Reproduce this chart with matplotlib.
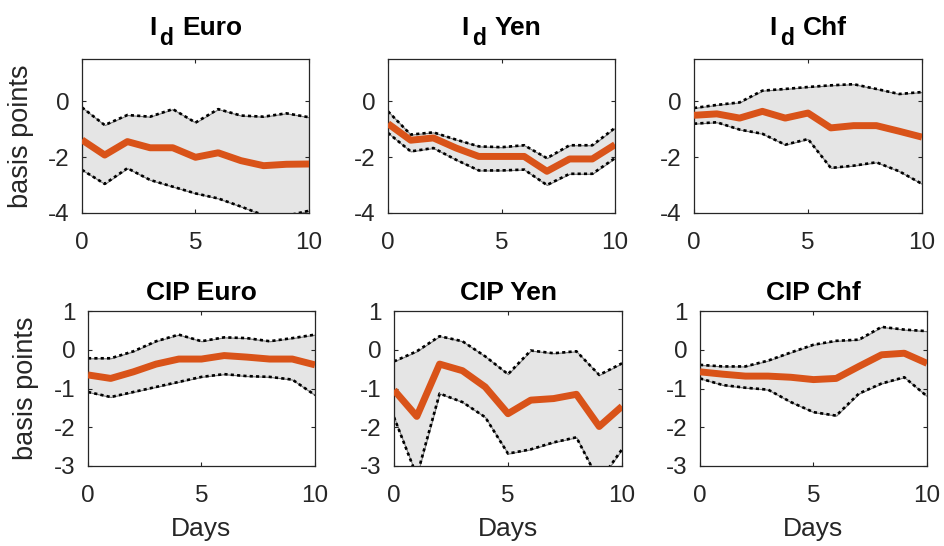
import matplotlib
matplotlib.use("Agg")
import matplotlib.pyplot as plt
import numpy as np

plt.rcParams['font.family'] = ['Liberation Sans', 'DejaVu Sans']
plt.rcParams['axes.unicode_minus'] = False

days = list(range(11))

title_main = ['I', 'I', 'I', 'CIP Euro', 'CIP Yen', 'CIP Chf']
title_sub = ['d', 'd', 'd', '', '', '']
title_rest = ['Euro', 'Yen', 'Chf', '', '', '']

# median responses
id_euro_med = [-1.39, -1.93, -1.45, -1.67, -1.67, -2.01, -1.85, -2.13, -2.31, -2.26, -2.25]
id_yen_med = [-0.81, -1.40, -1.32, -1.68, -1.98, -1.98, -1.98, -2.51, -2.07, -2.07, -1.56]
id_chf_med = [-0.51, -0.46, -0.61, -0.37, -0.61, -0.43, -0.96, -0.88, -0.88, -1.08, -1.29]
cip_euro_med = [-0.65, -0.74, -0.57, -0.37, -0.24, -0.24, -0.15, -0.19, -0.24, -0.24, -0.39]
cip_yen_med = [-1.04, -1.72, -0.37, -0.54, -0.96, -1.65, -1.30, -1.26, -1.15, -1.98, -1.46]
cip_chf_med = [-0.57, -0.63, -0.68, -0.68, -0.71, -0.77, -0.74, -0.43, -0.13, -0.09, -0.35]

# upper bands
id_euro_up = [-0.23, -0.86, -0.50, -0.56, -0.29, -0.77, -0.29, -0.52, -0.56, -0.44, -0.58]
id_yen_up = [-0.37, -1.20, -1.12, -1.38, -1.62, -1.65, -1.58, -2.04, -1.58, -1.58, -0.96]
id_chf_up = [-0.25, -0.14, -0.05, 0.37, 0.43, 0.50, 0.56, 0.60, 0.43, 0.25, 0.32]
cip_euro_up = [-0.22, -0.22, -0.04, 0.22, 0.39, 0.22, 0.32, 0.30, 0.22, 0.30, 0.39]
cip_yen_up = [-0.30, -0.04, 0.35, 0.22, -0.17, -0.63, -0.02, -0.09, -0.04, -0.65, -0.35]
cip_chf_up = [-0.39, -0.43, -0.43, -0.28, -0.07, 0.13, 0.23, 0.26, 0.59, 0.52, 0.48]

# lower bands
id_euro_lo = [-2.46, -2.96, -2.40, -2.82, -3.06, -3.30, -3.48, -3.77, -4.08, -4.10, -3.92]
id_yen_lo = [-1.14, -1.80, -1.68, -2.10, -2.48, -2.48, -2.45, -3.00, -2.60, -2.60, -2.04]
id_chf_lo = [-0.81, -0.76, -1.02, -1.17, -1.56, -1.36, -2.39, -2.31, -2.19, -2.51, -2.96]
cip_euro_lo = [-1.09, -1.22, -1.09, -0.96, -0.83, -0.70, -0.63, -0.68, -0.70, -0.77, -1.17]
cip_yen_lo = [-1.74, -3.26, -1.13, -1.35, -1.74, -2.68, -2.57, -2.39, -2.26, -3.40, -2.57]
cip_chf_lo = [-0.74, -0.91, -0.98, -1.03, -1.35, -1.61, -1.70, -1.13, -0.87, -0.71, -1.20]

meds = [id_euro_med, id_yen_med, id_chf_med, cip_euro_med, cip_yen_med, cip_chf_med]
ups = [id_euro_up, id_yen_up, id_chf_up, cip_euro_up, cip_yen_up, cip_chf_up]
los = [id_euro_lo, id_yen_lo, id_chf_lo, cip_euro_lo, cip_yen_lo, cip_chf_lo]

top_yticks = [-4, -2, 0]
bot_yticks = [-3, -2, -1, 0, 1]
xticks = [0, 5, 10]

W, H = 945, 546
fig = plt.figure(figsize=(W / 100, H / 100), dpi=100)

# pixel boxes: left, top, width, height
boxes = [(82, 59, 227, 154), (388, 59, 227, 154), (694, 59, 228, 154),
         (88, 311, 227, 155), (394, 311, 228, 155), (700, 311, 227, 155)]

axcol = '#262626'
orange = '#D95319'
TFS = 19
SUBFS = 16.5

title_groups = []
for i in range(6):
    l, t, w, h = boxes[i]
    ax = fig.add_axes([l / W, (H - t - h) / H, w / W, h / H])
    x = np.array(days)
    lo = np.array(los[i]); up = np.array(ups[i]); md = np.array(meds[i])
    ax.fill_between(x, lo, up, facecolor='#E5E5E5', edgecolor='#7a7a7a', linewidth=0.8, zorder=1)
    ax.plot(x, up, color='black', linestyle=(0, (1.2, 1.2)), linewidth=1.9, zorder=2)
    ax.plot(x, lo, color='black', linestyle=(0, (1.2, 1.2)), linewidth=1.9, zorder=2)
    ax.plot(x, md, color=orange, linewidth=5, solid_capstyle='butt', zorder=3)
    ax.set_xlim(0, 10)
    ax.set_xticks(xticks)
    if i < 3:
        ax.set_ylim(-4, 1.5)
        ax.set_yticks(top_yticks)
    else:
        ax.set_ylim(-3, 1)
        ax.set_yticks(bot_yticks)
        ax.set_xlabel('Days', fontsize=19, color=axcol, labelpad=7)
    ax.tick_params(direction='in', top=True, right=True, length=3, width=0.8,
                   labelsize=17.5, colors=axcol, labelcolor=axcol)
    ax.tick_params(axis='x', pad=14)
    ax.tick_params(axis='y', pad=9)
    for s in ax.spines.values():
        s.set_color(axcol)
        s.set_linewidth(0.9)
    if i % 3 == 0:
        ax.set_ylabel('basis points', fontsize=19.5, color=axcol)
        ax.yaxis.set_label_coords((34 - l) / w if i == 0 else (39 - l) / w, 0.5)

    # title (with subscript for the top row)
    if title_sub[i]:
        base = 24
        t1 = ax.annotate(title_main[i], xy=(0.5, 1), xycoords='axes fraction',
                         xytext=(0, base), textcoords='offset pixels',
                         ha='left', va='baseline', fontsize=TFS, fontweight='bold', color='black')
        t2 = ax.annotate(title_sub[i], xy=(1, 0), xycoords=t1,
                         xytext=(3, -10), textcoords='offset pixels',
                         ha='left', va='bottom', fontsize=SUBFS, fontweight='bold', color='black')
        t3 = ax.annotate(title_rest[i], xy=(1, 0), xycoords=(t2, t1),
                         xytext=(9, 0), textcoords='offset pixels',
                         ha='left', va='bottom', fontsize=TFS, fontweight='bold', color='black')
        title_groups.append((ax, t1, t2, t3, base))
    else:
        ax.set_title(title_main[i], fontsize=TFS, fontweight='bold', pad=8)

# center the composed titles over their axes
fig.canvas.draw()
r = fig.canvas.get_renderer()
for ax, t1, t2, t3, base in title_groups:
    exts = [tt.get_window_extent(r) for tt in (t1, t2, t3)]
    x0 = min(e.x0 for e in exts)
    x1 = max(e.x1 for e in exts)
    axb = ax.get_window_extent(r)
    cx = (axb.x0 + axb.x1) / 2
    shift = cx - (x0 + x1) / 2
    t1.xyann = (t1.xyann[0] + shift, base)

fig.savefig('out.png', dpi=100)
